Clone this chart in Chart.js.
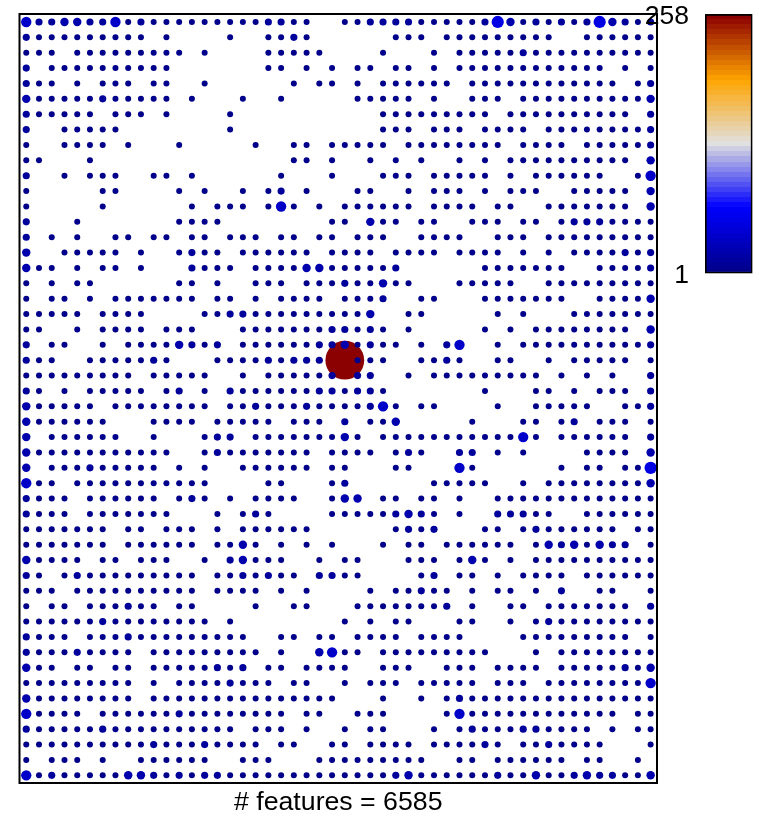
<!DOCTYPE html>
<html><head><meta charset="utf-8">
<style>html,body{margin:0;padding:0;background:#fff;overflow:hidden}
#main{position:absolute;left:0;top:0}#bar{position:absolute;left:630px;top:0}</style>
<script src="https://cdn.jsdelivr.net/npm/chart.js@4/dist/chart.umd.min.js"></script>
</head><body>
<canvas id="main" width="759" height="816"></canvas>
<canvas id="bar" width="129" height="300"></canvas>
<script>
const featureLabel = "# features = 6585";
const scaleTicks = [1, 258];
// estimated hit count for each size class seen in the picture
const classCounts = {"1":1,"2":10,"3":20,"4":35,"5":50,"M":258};
// columns 0-24, one string per row, top to bottom
const cellsLeft = [
"42233224121111111112211..","2111111111.1....1..1121..","111.111111111.1....11111.","2.1111111111.......11.1.1","211.1.111.11..1......1.11",
"311111211111.1...1..1....","211111.111.1....1........","2..11111........1........","1..1111.1...1.....1..11.1","11...1...............11.1",
"2..1.111..11.1......1...1","1.....11....1.1..1.12.1..","1.....1......1.111.141.1.","2...1.......1111........1","2.1.1..11.11.11.111.11.11",
"3..11111.1..1211.111111.1","311.1.11.1...2111.1111331","1.1.11......11.1..111.111","1.11.1.1111111.11.1.1111.","11111.1111....11221111111",
"11..1.1111.111...11111112","2.11..1.11113212.11111122","211..1111121...111121222.","111111111.11111..1.111112","21.1.11111.12.1.211111122",
"311111.11111111.112111211","3111111...1111.11111.111.","3.111111..1...122.1111111","311111111111..121111111.1","3.111211111.1.1..111111.1",
"411.11111111111....11...1","2111.111111.121.1.1111..1","2111.1111111...1.121....1","1111111.11.111.1.111111..","1111111.111111.1131.1.1.1",
"31111.11.111..1.23111..1.","21.12111111111.1121211.22","111.1111111111.1111.1.1..","1.11.111211.11....1..11..","111111211111111.1........",
"2111.1112111111111..11.11","211121111.111111111.1..34","311.11.11.11111212.11.111","111111111.1.11112111.11..","311111111.111111111111111",
"41111.111111211111111.11.","21111121111111111.111.1..","1111111111211121111.11..1","1.111.1..111111..111...11","4121111133212122111111111"];
// columns 25-49, one string per row, top to bottom
const cellsRight = [
"1122221111125312121253212","....111.111111111..111111","...1...1.1111121111111111",".11.11.1.111111111111.1.1",".1.111111.111111111111.12",
".11111.1..111.11111111113","...111111111.1111111111.2","...111.111.1111.111111112","1111.11111111.1111.111112","..1.1.1..1.1.1111111111.3",
"...111.11111.1.111111..14",".11..1.111.1.111..11111.3","111111.1111.11..1111111.3","1.311.11..111.11.12221111",".111..1111..111.111111111",
"111.1111.1111.1.1.1111212","11112......1111111..11112","211311...11111..111111111","1112..11...1111111..11113","113..11.....1.1...1111111",
"2121.1.....1.1.11111111.3","31211.1.24..1.11111111112","M111..1121..11..1.11111.1",".22..1.111111111.1.1.1..2","1221.......1...11.1.111.2",
"11241.11....1..11111..112","2.113.....1...11.12.111.1","31.1111111111141.111111.2","111.121..22.1.1....1111.3","1...11...41......1.11.115",
"2......11111..1.111111113","33.11.11.1..1111111111111","11112321.1..22211..111111","....1212...11.12111111.11","...1.11.111111.13231322.1",
"11...111.131.1.1111111111","11....12.11.1.1111.111111","..1.11211.1.11.1.2..11..1",".11111112.1..11.1111111.2","1.1.11...11..1.1211111111",
".1111.1111....111111111.1","11.111111111...1.11111111","1..111..111.1111.11111213","1.111.11111.111.111111114","...1..1.12111111111111111",
".111....14111111111111.11","1.11...1.12111221111.1.11","1.1111.111121.1121111...1","1111111..11.111111.11..1.","1111231111112113112322113"];
const rampStops = [[0,[0,0,139]],[0.25,[0,0,255]],[0.5,[224,224,224]],[0.75,[255,165,0]],[1,[139,0,0]]];
const rampBands = 51;

function rampColor(t){
  t=Math.max(0,Math.min(1,t));
  for(let i=1;i<rampStops.length;i++){
    if(t<=rampStops[i][0]){
      const a=rampStops[i-1],b=rampStops[i],f=(t-a[0])/(b[0]-a[0]);
      return "rgb("+a[1].map((v,k)=>Math.round(v+(b[1][k]-v)*f)).join(",")+")";
    }
  }
  return "rgb(139,0,0)";
}
const countMax = scaleTicks[1], countMin = scaleTicks[0];
const pts=[];
cellsLeft.forEach((s,row)=>{
  (s+cellsRight[row]).split("").forEach((c,col)=>{
    if(c!=="."){const n=classCounts[c];pts.push({x:col,y:row,n:n,r:3.0+(n-1)*0.0638});}
  });
});
pts.sort((a,b)=>b.n-a.n);

const framePlugin={id:"frame",afterDatasetsDraw(ch){
  const a=ch.chartArea,c=ch.ctx;c.save();c.strokeStyle="#000";c.lineWidth=2;
  c.strokeRect(a.left,a.top,a.right-a.left,a.bottom-a.top);c.restore();
}};
Chart.defaults.font.family='"Liberation Sans",Arial,sans-serif';
Chart.defaults.color="#000";
new Chart(document.getElementById("main"),{
  type:"bubble",
  data:{datasets:[{data:pts,borderWidth:0,hoverBorderWidth:0,
    backgroundColor:ctx=>rampColor((ctx.raw.n-countMin)/(countMax-countMin))}]},
  options:{responsive:false,animation:false,devicePixelRatio:1,
    layout:{autoPadding:false,padding:{left:19.5,right:102,top:14,bottom:0}},
    plugins:{legend:{display:false},tooltip:{enabled:false}},
    scales:{
      x:{type:"linear",min:-0.53,max:49.5,grid:{display:false},border:{display:false},
         ticks:{display:false},
         title:{display:true,text:featureLabel,font:{size:26.7},padding:{top:0,bottom:-3}},
         afterFit(s){s.height=33;s.paddingTop=0;s.paddingBottom=0;s.paddingLeft=0;s.paddingRight=0;}},
      y:{type:"linear",reverse:true,min:-0.52,max:49.5,display:false}
    }},
  plugins:[framePlugin]
});

const bandPlugin={id:"bands",beforeDatasetsDraw(ch){
  const a=ch.chartArea,c=ch.ctx;
  const g=c.createLinearGradient(0,a.bottom,0,a.top);
  for(let i=0;i<rampBands;i++){
    const col=rampColor(i/(rampBands-1));
    g.addColorStop(i/rampBands,col);g.addColorStop((i+1)/rampBands,col);
  }
  ch.getDatasetMeta(0).data[0].options.backgroundColor=g;
}};
new Chart(document.getElementById("bar"),{
  type:"bar",
  data:{labels:[""],datasets:[{data:[[countMin,countMax]],barPercentage:1,categoryPercentage:1,
    backgroundColor:"#00008b",borderColor:"#000",borderWidth:2,borderSkipped:false}]},
  options:{responsive:false,animation:false,devicePixelRatio:1,
    layout:{autoPadding:false,padding:{left:0,right:6.5,top:14,bottom:26.5}},
    plugins:{legend:{display:false},tooltip:{enabled:false}},
    scales:{
      x:{display:false},
      y:{type:"linear",min:countMin,max:countMax,grid:{display:false,drawTicks:false},border:{display:false},
         afterBuildTicks(s){s.ticks=scaleTicks.map(v=>({value:v}));},
         afterFit(s){s.width=75;s.paddingTop=0;s.paddingBottom=0;},
         ticks:{padding:16,autoSkip:false,labelOffset:2.5,font:{size:26.5},callback:v=>String(v)}}
    }},
  plugins:[bandPlugin]
});
</script>
</body></html>
